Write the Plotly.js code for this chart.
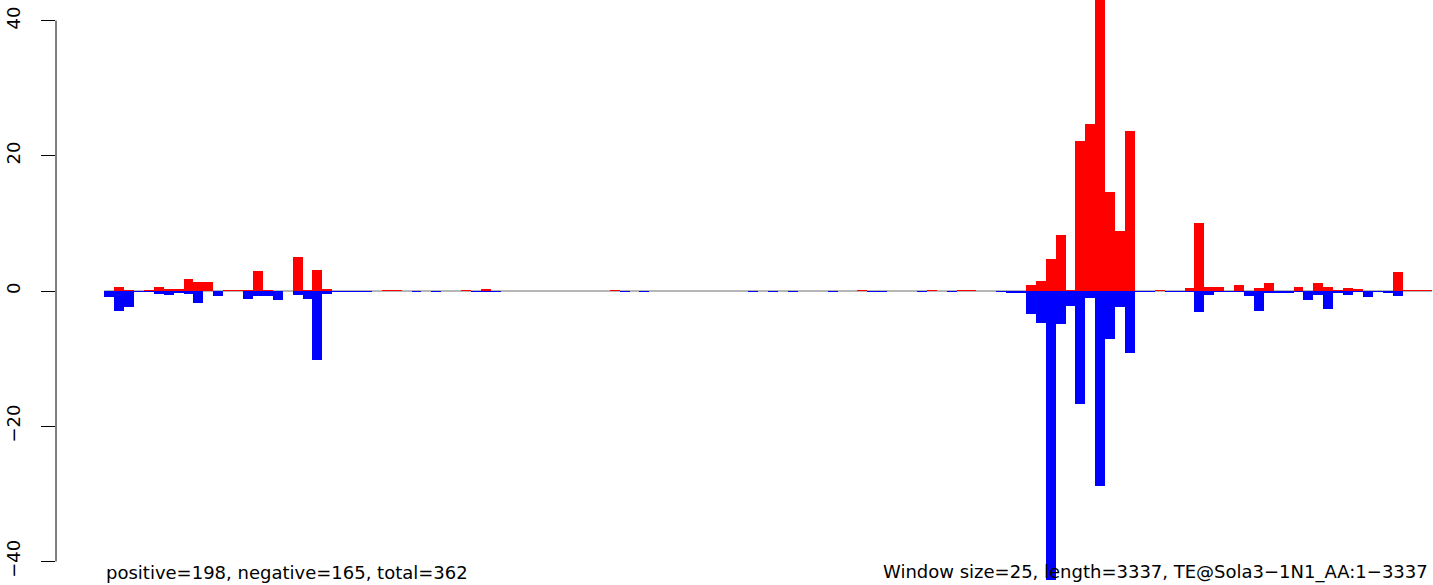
<!DOCTYPE html>
<html>
<head>
<meta charset="utf-8">
<script src="https://cdn.plot.ly/plotly-3.0.1.min.js"></script>
<style>
  html, body { margin: 0; padding: 0; background: #ffffff; }
  #chart { width: 1433px; height: 585px; }
</style>
</head>
<body>
<div id="chart"></div>
<script>
// Sliding-window counts (window size 25, 134 windows along 3337 positions)
const positiveCounts = [
  0, 0.6, 0.15, 0, 0.15, 0.6, 0.3, 0.3, 1.8, 1.33,
  1.33, 0, 0.15, 0.15, 0.15, 2.96, 0.15, 0, 0, 5.0,
  0.15, 3.1, 0.3, 0, 0, 0, 0, 0, 0.15, 0.15,
  0, 0, 0, 0, 0, 0, 0.15, 0, 0.3, 0,
  0, 0, 0, 0, 0, 0, 0, 0, 0, 0,
  0, 0.15, 0, 0, 0, 0, 0, 0, 0, 0,
  0, 0, 0, 0, 0, 0, 0, 0, 0, 0,
  0, 0, 0, 0, 0, 0, 0.15, 0, 0, 0,
  0, 0, 0, 0.15, 0, 0, 0.15, 0.15, 0, 0,
  0, 0, 0, 0.9, 1.5, 4.8, 8.3, 0.2, 22.2, 24.7,
  47, 14.6, 8.9, 23.7, 0, 0, 0.15, 0, 0, 0.45,
  10.1, 0.6, 0.6, 0, 0.9, 0, 0.45, 1.2, 0, 0,
  0.6, 0, 1.2, 0.6, 0.2, 0.45, 0.3, 0, 0, 0,
  2.86, 0.15, 0.15, 0.15
];
const negativeCounts = [
  -0.84, -2.9, -2.3, -0.15, -0.15, -0.4, -0.6, -0.25, -0.4, -1.7,
  0, -0.7, 0, 0, -1.15, -0.7, -0.7, -1.3, 0, -0.55,
  -1.15, -10.2, -0.4, -0.15, -0.15, -0.15, -0.15, 0, 0, 0,
  0, -0.15, 0, -0.15, 0, 0, 0, -0.15, -0.15, -0.15,
  0, 0, 0, 0, 0, 0, 0, 0, 0, 0,
  0, 0, -0.15, 0, -0.15, 0, 0, 0, 0, 0,
  0, 0, 0, 0, 0, -0.15, 0, -0.15, 0, -0.15,
  0, 0, 0, -0.15, 0, 0, 0, -0.15, -0.15, 0,
  0, 0, -0.15, 0, 0, -0.15, 0, 0, 0, 0,
  -0.15, -0.3, -0.3, -3.4, -4.7, -42.8, -4.9, -2.2, -16.7, -1.0,
  -28.9, -7.1, -2.4, -9.2, -0.15, -0.15, 0, -0.15, -0.15, -0.15,
  -3.1, -0.55, -0.15, -0.15, -0.15, -0.7, -2.9, -0.25, -0.25, -0.25,
  -0.15, -1.3, -0.55, -2.6, -0.25, -0.55, -0.15, -0.84, -0.15, -0.25,
  -0.7, 0, 0, 0
];
const yTickValues = [-40, -20, 0, 20, 40];
const yTickLabels = ["\u221240", "\u221220", "0", "20", "40"];
const leftCaption = "positive=198, negative=165, total=362";
const rightCaption = "Window size=25, length=3337, TE@Sola3\u22121N1_AA:1\u22123337";

const windowIndex = positiveCounts.map((_, i) => i);
const FONT = "DejaVu Sans, Liberation Sans, Arial, sans-serif";

const traces = [
  {
    type: "bar", x: windowIndex, y: positiveCounts, width: 1,
    marker: { color: "#FF0000", line: { width: 0 } },
    hoverinfo: "skip", showlegend: false
  },
  {
    type: "bar", x: windowIndex, y: negativeCounts, width: 1,
    marker: { color: "#0000FF", line: { width: 0 } },
    hoverinfo: "skip", showlegend: false
  }
];

const nBars = positiveCounts.length;
const layout = {
  width: 1433, height: 585,
  margin: { l: 56, r: 0, t: 0, b: 0, pad: 0 },
  paper_bgcolor: "#ffffff", plot_bgcolor: "#ffffff",
  barmode: "overlay", bargap: 0,
  showlegend: false,
  font: { family: FONT, size: 18, color: "#000000" },
  xaxis: {
    range: [-5.374, 133.576],
    showgrid: false, zeroline: false, showline: false,
    showticklabels: false, ticks: "", fixedrange: true
  },
  yaxis: {
    range: [-43.49, 43.05],
    tickvals: yTickValues, ticktext: yTickLabels,
    tickangle: -90,
    ticks: "outside", ticklen: 14, tickwidth: 1, tickcolor: "#000000",
    ticklabelstandoff: 14,
    tickfont: { family: FONT, size: 18, color: "#000000" },
    showgrid: false, zeroline: false, showline: false,
    automargin: false, fixedrange: true
  },
  shapes: [
    { type: "line", layer: "below", xref: "x", yref: "y",
      x0: -0.5, x1: nBars - 0.5, y0: 0, y1: 0,
      line: { color: "#6e6e6e", width: 1 } },
    { type: "line", layer: "above", xref: "paper", yref: "y",
      x0: 0, x1: 0, y0: yTickValues[0], y1: yTickValues[yTickValues.length - 1],
      line: { color: "#000000", width: 1 } }
  ],
  annotations: [
    { xref: "x", yref: "paper", x: -0.5, y: 0.0222,
      xanchor: "left", yanchor: "middle", showarrow: false,
      text: leftCaption, font: { family: FONT, size: 18, color: "#000000" } },
    { xref: "paper", yref: "paper", x: 0.9978, y: 0.0222,
      xanchor: "right", yanchor: "middle", showarrow: false,
      text: rightCaption, font: { family: FONT, size: 18, color: "#000000" } }
  ]
};

Plotly.newPlot("chart", traces, layout, { displayModeBar: false, staticPlot: true });
</script>
</body>
</html>
